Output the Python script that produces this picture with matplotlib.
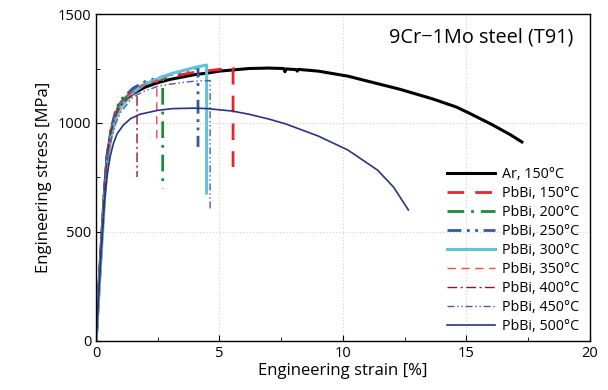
import matplotlib
matplotlib.use("Agg")
import matplotlib.pyplot as plt
from matplotlib.ticker import MultipleLocator

plt.rcParams['font.family'] = ['Open Sans', 'DejaVu Sans']

# ---- data (strain %, stress MPa) ----
ar150_x = [0, 0.2, 0.35, 0.45, 0.6, 0.8, 1.0, 1.5, 2.0, 2.5, 3.0, 4.0, 4.5, 5.0, 6.2, 7.0, 7.6, 7.65, 7.7, 8.1, 8.15, 8.2,
           9.0, 10.2, 11.0, 12.3, 13.65, 14.6, 15.1, 16.0, 16.8, 17.25]
ar150_y = [0, 420, 700, 850, 950, 1030, 1080, 1135, 1165, 1185, 1200, 1222, 1229, 1238, 1250, 1252, 1250, 1235, 1248, 1245, 1238, 1246,
           1238, 1215, 1192, 1155, 1110, 1073, 1046, 995, 945, 913]

pb150_x = [0, 0.2, 0.35, 0.45, 0.6, 0.8, 1.0, 1.5, 2.0, 3.0, 4.0, 5.0, 5.55, 5.55]
pb150_y = [0, 400, 690, 840, 960, 1045, 1095, 1150, 1180, 1212, 1233, 1246, 1252, 798]

pb200_x = [0, 0.2, 0.35, 0.45, 0.6, 0.8, 1.0, 1.5, 2.0, 2.4, 2.7, 2.7]
pb200_y = [0, 410, 700, 850, 965, 1050, 1095, 1150, 1180, 1195, 1205, 700]

pb250_x = [0, 0.2, 0.35, 0.45, 0.6, 0.8, 1.0, 1.5, 2.0, 3.0, 3.5, 4.13, 4.13]
pb250_y = [0, 410, 700, 850, 970, 1060, 1105, 1160, 1190, 1222, 1235, 1255, 890]

pb300_x = [0, 0.2, 0.35, 0.45, 0.6, 0.8, 1.0, 1.5, 2.0, 3.0, 4.0, 4.48, 4.48]
pb300_y = [0, 380, 660, 810, 930, 1020, 1070, 1140, 1180, 1225, 1255, 1266, 679]

pb350_x = [0, 0.2, 0.35, 0.45, 0.6, 0.8, 1.0, 1.5, 2.0, 2.46, 2.46]
pb350_y = [0, 400, 690, 840, 955, 1040, 1090, 1145, 1178, 1197, 908]

pb400_x = [0, 0.2, 0.35, 0.45, 0.6, 0.8, 1.0, 1.3, 1.66, 1.66]
pb400_y = [0, 410, 700, 845, 955, 1035, 1080, 1115, 1140, 752]

pb450_x = [0, 0.2, 0.35, 0.45, 0.6, 0.8, 1.0, 1.5, 2.0, 2.5, 3.0, 3.5, 4.0, 4.62, 4.62]
pb450_y = [0, 400, 680, 820, 920, 1000, 1050, 1120, 1148, 1168, 1178, 1186, 1192, 1195, 600]

pb500_x = [0, 0.2, 0.35, 0.45, 0.57, 0.7, 0.85, 1.1, 1.4, 1.78, 2.5, 3.1, 4.0, 4.5, 5.5, 6.2, 7.0, 7.7, 9.0, 10.2, 11.4, 12.05, 12.65]
pb500_y = [0, 400, 650, 760, 845, 905, 950, 990, 1020, 1040, 1058, 1066, 1068, 1066, 1055, 1040, 1018, 995, 940, 876, 784, 706, 601]

labels = ['Ar, 150°C', 'PbBi, 150°C', 'PbBi, 200°C', 'PbBi, 250°C', 'PbBi, 300°C',
          'PbBi, 350°C', 'PbBi, 400°C', 'PbBi, 450°C', 'PbBi, 500°C']
xticks = [0, 5, 10, 15, 20]
yticks = [0, 500, 1000, 1500]

series = [(ar150_x, ar150_y), (pb150_x, pb150_y), (pb200_x, pb200_y), (pb250_x, pb250_y),
          (pb300_x, pb300_y), (pb350_x, pb350_y), (pb400_x, pb400_y), (pb450_x, pb450_y),
          (pb500_x, pb500_y)]

styles = [
    dict(color='black', lw=2.2, ls='-'),
    dict(color='#e8242a', lw=2.0, ls=(0, (6, 4))),
    dict(color='#1c8a3c', lw=2.0, ls=(0, (6, 2.5, 1, 2.5))),
    dict(color='#2f5aa8', lw=2.0, ls=(0, (5, 2, 1, 2, 1, 2))),
    dict(color='#5fc3dc', lw=2.2, ls='-'),
    dict(color='#ee4a4a', lw=1.0, ls=(0, (6, 4))),
    dict(color='#8a1a1a', lw=1.0, ls=(0, (7, 2.5, 1.5, 2.5))),
    dict(color='#4a5aa8', lw=1.0, ls=(0, (5, 2, 1, 2, 1, 2))),
    dict(color='#2a3480', lw=1.2, ls='-'),
]

fig = plt.figure(figsize=(6.08, 3.9), dpi=100)
ax = fig.add_axes([0.158, 0.126, 0.812, 0.838])

for (x, y), lab, st in zip(series, labels, styles):
    ax.plot(x, y, label=lab, **st)

ax.set_xlim(0, 20)
ax.set_ylim(0, 1500)
ax.set_xticks(xticks)
ax.set_yticks(yticks)
ax.xaxis.set_minor_locator(MultipleLocator(2.5))
ax.yaxis.set_minor_locator(MultipleLocator(250))
ax.tick_params(which='both', direction='in', top=False, right=False, labelsize=10.5)
ax.tick_params(which='major', length=4)
ax.tick_params(which='minor', length=3)
ax.grid(True, which='major', ls=(0, (1, 2)), color='#d0d0d0', lw=0.8)
ax.set_axisbelow(True)
for s in ax.spines.values():
    s.set_linewidth(1.0)

ax.set_xlabel('Engineering strain [%]', fontsize=12, labelpad=2)
ax.set_ylabel('Engineering stress [MPa]', fontsize=12, labelpad=4)
ax.text(0.966, 0.96, '9Cr\u22121Mo steel (T91)', transform=ax.transAxes,
        ha='right', va='top', fontsize=14.3)

leg = ax.legend(loc='upper left', bbox_to_anchor=(0.7, 0.55), frameon=False,
                fontsize=10.3, handlelength=3.3, labelspacing=0.28, handletextpad=0.5,
                borderaxespad=0)

fig.savefig('out.png', dpi=100)
